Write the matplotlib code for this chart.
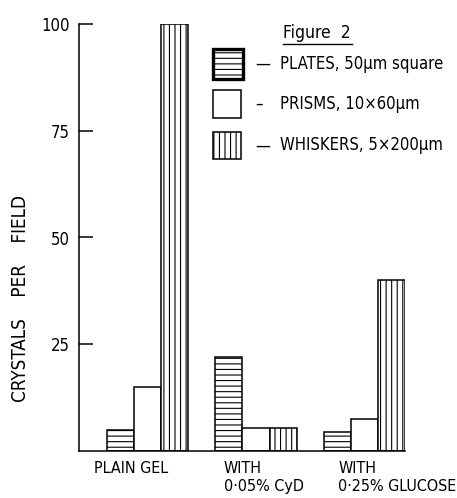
import numpy as np
import matplotlib.pyplot as plt
from matplotlib.patches import Rectangle
from matplotlib.lines import Line2D

plt.rcParams['font.family'] = ['DejaVu Sans']
plt.rcParams['font.stretch'] = 'condensed'
plt.rcParams['hatch.linewidth'] = 0.8

# data
groups = ["PLAIN GEL", "WITH\n0·05% CyD", "WITH\n0·25% GLUCOSE"]
plates = [5, 22, 4.5]
prisms = [15, 5.5, 7.5]
whiskers = [100, 5.5, 40]
series_names = ["PLATES, 50µm square", "PRISMS, 10×60µm", "WHISKERS, 5×200µm"]
series_dash = ["—", "–", "—"]
hatches = ["---", "", "|||"]
yticks = [25, 50, 75, 100]

W, H = 457, 498
fig = plt.figure(figsize=(W / 100, H / 100), dpi=100)
ax = fig.add_axes([79 / W, (H - 451) / H, 326 / W, 427 / H])

def fx(px):
    return px / W

def fy(py):
    return (H - py) / H

x = np.arange(len(groups))
bw = 0.25
for i, vals in enumerate([plates, prisms, whiskers]):
    ax.bar(x + (i - 1) * bw, vals, width=bw, color="white", edgecolor="black",
           linewidth=1.1, hatch=hatches[i])

ax.set_xlim(-0.634, 2.375)
ax.set_ylim(0, 100)
ax.spines["top"].set_visible(False)
ax.spines["right"].set_visible(False)
ax.spines["left"].set_linewidth(1.1)
ax.spines["bottom"].set_linewidth(1.1)
ax.set_xticks([])
ax.set_yticks(yticks)
ax.tick_params(axis="y", direction="in", length=10, width=1.1, pad=6.5, labelsize=12)

# category labels, left aligned under each group
label_x = [-0.50, 0.70, 1.76]
for lx, g in zip(label_x, groups):
    ax.text(lx, -0.024, g, transform=ax.get_xaxis_transform(), ha="left", va="top",
            fontsize=11.5, linespacing=1.25)

fig.text(fx(21), fy(298), "CRYSTALS    PER    FIELD", rotation=90, ha="center",
         va="center", fontsize=13.5)

# legend drawn by hand
fig.text(fx(283), fy(33), "Figure  2", ha="left", va="center", fontsize=12.5)
fig.add_artist(Line2D([fx(283), fx(352)], [fy(44), fy(44)], color="black", lw=1.0))

boxes = [(213, 49, 30, 30, 2.4), (213, 90, 28, 28, 1.1), (213, 132, 28, 27, 1.1)]
for (bx, by, bwid, bht, lw), h, dash, name in zip(boxes, hatches, series_dash, series_names):
    fig.add_artist(Rectangle((fx(bx), fy(by + bht)), bwid / W, bht / H,
                             transform=fig.transFigure, facecolor="white",
                             edgecolor="black", linewidth=lw, hatch=h))
    fig.text(fx(255), fy(by + bht / 2), dash, ha="left", va="center", fontsize=12)
    fig.text(fx(280), fy(by + bht / 2), name, ha="left", va="center", fontsize=12)

fig.savefig("out.png", dpi=100)
